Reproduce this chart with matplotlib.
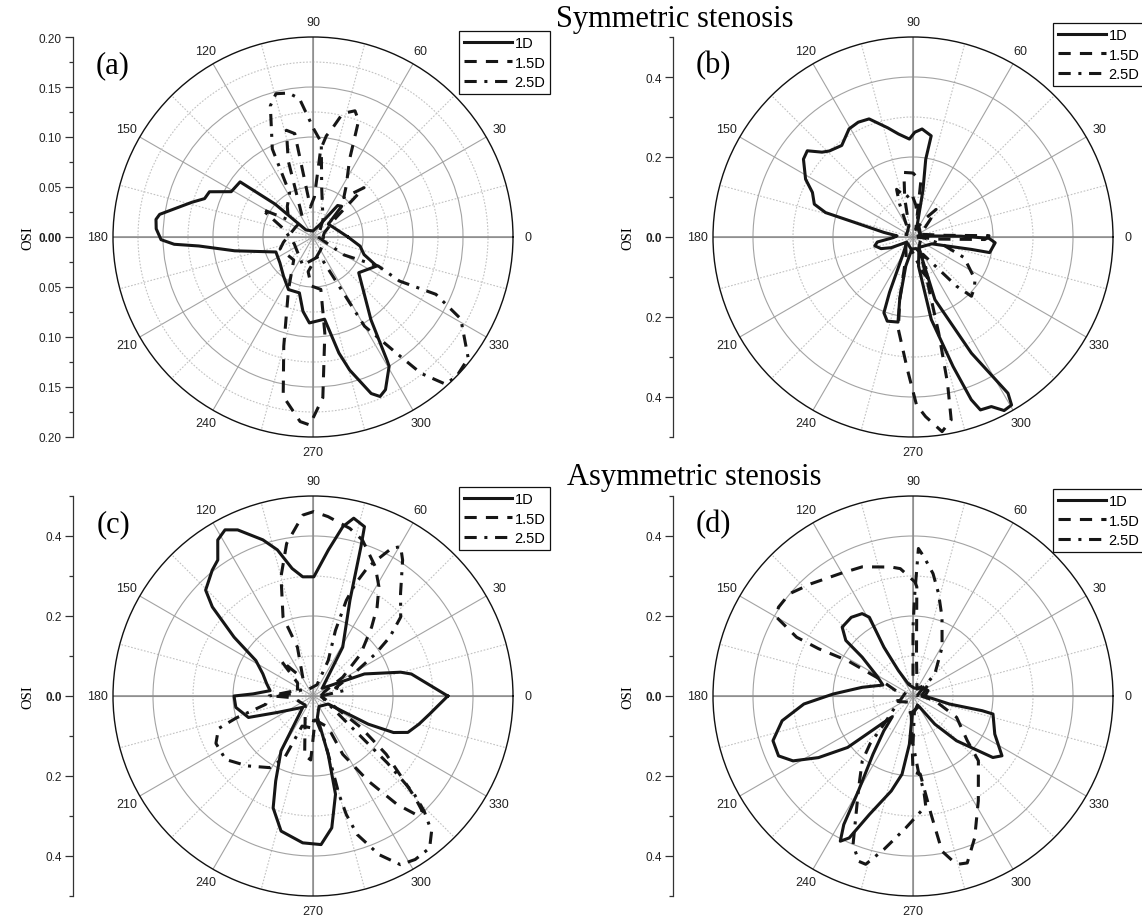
import numpy as np
import matplotlib.pyplot as plt
from matplotlib.lines import Line2D

W, H = 1142, 920
SANS = ['Liberation Sans', 'DejaVu Sans']
SERIF = ['Liberation Serif', 'DejaVu Serif']

labels = ['1D', '1.5D', '2.5D']
angle_ticks = list(range(0, 360, 30))

# (angle in degrees, OSI), in drawing order
# --- (a) symmetric stenosis, 1D / 1.5D / 2.5D
a_1d = [(360, 0.035), (349, 0.048), (341, 0.054), (335.5, 0.070), (322, 0.058), (305, 0.101),
        (301, 0.1435), (300.5, 0.150), (295.4, 0.169), (292.8, 0.173), (290.4, 0.167),
        (285.4, 0.138), (282.6, 0.119), (278, 0.083), (267.6, 0.086), (262.3, 0.075),
        (256.3, 0.0575), (245, 0.058), (233, 0.049), (218, 0.042), (202, 0.040), (190, 0.0795),
        (184.5, 0.1145), (183, 0.139), (181, 0.152), (177, 0.157), (173.6, 0.158), (171.6, 0.155),
        (164, 0.126), (160.5, 0.115), (156.4, 0.113), (151, 0.0935), (142.9, 0.0914),
        (139, 0.05), (135, 0.01), (90, 0.006), (60, 0.015), (52, 0.04), (47, 0.042),
        (40, 0.02), (20, 0.024), (0, 0.035)]
a_15d = [(0, 0.01), (20, 0.012), (40, 0.03), (44, 0.071), (52, 0.05), (57, 0.061), (64.8, 0.086),
         (68.6, 0.125), (71.6, 0.133), (76.5, 0.127), (80, 0.11), (82.5, 0.102), (85, 0.088),
         (88, 0.04), (95, 0.03), (100, 0.105), (104, 0.11), (108, 0.08), (120, 0.02), (150, 0.02),
         (190, 0.03), (200, 0.035), (230, 0.03), (245, 0.058), (255, 0.113), (259.4, 0.162),
         (266, 0.185), (269, 0.188), (273.5, 0.161), (277, 0.097), (278.5, 0.053), (268, 0.049),
         (262, 0.035), (300, 0.015), (340, 0.012), (360, 0.01)]
a_25d = [(360, 0.005), (330, 0.036), (336, 0.0715), (333, 0.097), (335, 0.1356), (331, 0.169),
         (322, 0.197), (316, 0.20), (312, 0.198), (308.4, 0.174), (305.7, 0.143), (300, 0.103),
         (298, 0.056), (290, 0.02), (250, 0.03), (200, 0.02), (165, 0.03), (151.5, 0.058),
         (145, 0.03), (130, 0.04), (118, 0.05), (114.8, 0.097), (108, 0.138), (104.5, 0.148),
         (99.6, 0.146), (95.6, 0.139), (89.6, 0.108), (85, 0.095), (80, 0.05), (60, 0.02),
         (0, 0.005)]

# --- (b) symmetric stenosis
b_1d = [(5, 0.02), (40, 0.02), (70, 0.03), (78, 0.12), (80.7, 0.197), (79.8, 0.257), (85.2, 0.271),
        (89, 0.262), (92.1, 0.245), (98, 0.26), (103, 0.28), (110.4, 0.315), (115.5, 0.318),
        (120.6, 0.314), (127.9, 0.29), (134.2, 0.30), (137, 0.311), (140.8, 0.341), (144.6, 0.336),
        (151.7, 0.305), (156.1, 0.275), (161.6, 0.26), (164.4, 0.227), (166, 0.15), (171, 0.074),
        (176, 0.04), (182, 0.05), (188, 0.09), (193, 0.098), (200, 0.085), (206, 0.061),
        (220, 0.02), (240, 0.05), (247, 0.15), (249, 0.203), (253, 0.22), (260, 0.216),
        (258, 0.16), (256, 0.075), (265, 0.03), (285, 0.03), (295, 0.043), (289.3, 0.166),
        (296.7, 0.325), (301.3, 0.457), (300.4, 0.487), (297.7, 0.49), (294.8, 0.467),
        (291.3, 0.464), (289.7, 0.432), (287.2, 0.339), (282.5, 0.2115), (280.7, 0.074),
        (300, 0.03), (340, 0.05), (348, 0.149), (348.5, 0.1955), (356, 0.206), (359, 0.19),
        (361, 0.12), (363, 0.05), (365, 0.02)]
b_15d = [(0, 0.01), (355, 0.06), (358, 0.18), (361, 0.19), (363, 0.08), (380, 0.02), (405, 0.06),
         (410, 0.09), (415, 0.06), (430, 0.02), (442, 0.14), (450, 0.16), (458, 0.163),
         (462, 0.10), (470, 0.03), (560, 0.02), (610, 0.05), (618, 0.16), (621, 0.234),
         (627.6, 0.332), (631.2, 0.42), (634, 0.45), (638.5, 0.492), (641.8, 0.467),
         (643.3, 0.375), (645, 0.248), (647.7, 0.12), (660, 0.03), (700, 0.02), (720, 0.01)]
b_25d = [(0, 0.01), (20, 0.02), (60, 0.03), (85, 0.08), (92, 0.11), (100, 0.10), (109, 0.126),
         (112, 0.09), (120, 0.03), (200, 0.02), (260, 0.03), (285, 0.09), (290, 0.11), (300, 0.05),
         (311.5, 0.164), (314.6, 0.208), (320, 0.20), (325.6, 0.188), (338, 0.138), (345, 0.08),
         (355, 0.03), (360, 0.01)]

# --- (c) asymmetric stenosis
c_1d = [(0, 0.337), (12.6, 0.252), (15.2, 0.227), (23.2, 0.14), (40, 0.03), (55, 0.08),
        (58.7, 0.143), (68.9, 0.2565), (72.2, 0.392), (73.1, 0.4425), (77.1, 0.456), (80, 0.43),
        (84, 0.367), (89.6, 0.298), (94.9, 0.299), (99.3, 0.323), (103.7, 0.376), (107.8, 0.41),
        (114.4, 0.456), (117.9, 0.47), (121.4, 0.457), (125, 0.415), (128.7, 0.403),
        (135.4, 0.377), (138.5, 0.336), (143.3, 0.246), (148.2, 0.168), (156.2, 0.137),
        (165, 0.12), (172.9, 0.108), (178, 0.15), (180, 0.1975), (188.4, 0.195), (198.4, 0.17),
        (204.8, 0.098), (228, 0.038), (239.8, 0.159), (246.3, 0.232), (250.4, 0.297),
        (256.7, 0.347), (266, 0.368), (273.1, 0.372), (278.1, 0.333), (282.9, 0.252),
        (284.6, 0.15), (281.5, 0.055), (300, 0.03), (332.2, 0.043), (333, 0.155),
        (335.6, 0.221), (339, 0.254), (345.1, 0.274), (351.2, 0.295), (360, 0.337)]
c_15d = [(0, 0.02), (20, 0.03), (32.3, 0.088), (41.4, 0.159), (49.6, 0.226), (54.2, 0.274),
         (58.9, 0.319), (64.3, 0.359), (72.4, 0.409), (77.6, 0.429), (85.2, 0.45), (89.8, 0.461),
         (93.2, 0.453), (99.8, 0.387), (105, 0.309), (110.8, 0.211), (107.7, 0.128), (120, 0.05),
         (132, 0.119), (140, 0.05), (170, 0.04), (180, 0.10), (185, 0.05), (230, 0.03),
         (262, 0.15), (268, 0.16), (275, 0.06), (295.8, 0.087), (297, 0.1635), (303, 0.253),
         (307.8, 0.343), (311.4, 0.40), (313.5, 0.397), (315.1, 0.3605), (317, 0.312),
         (321.5, 0.2338), (326.7, 0.143), (340, 0.04), (360, 0.02)]
c_25d = [(0, 0.02), (10, 0.08), (20, 0.06), (28.6, 0.1155), (34, 0.188), (37.5, 0.242), (42, 0.295),
         (49.5, 0.337), (56.6, 0.407), (59.6, 0.433), (62, 0.418), (66.9, 0.351), (69.3, 0.30),
         (70.8, 0.253), (71.1, 0.173), (66.8, 0.097), (70, 0.03), (120, 0.02), (170, 0.06),
         (180, 0.11), (190, 0.12), (196, 0.20), (199, 0.25), (206, 0.27), (216, 0.27),
         (226.7, 0.24), (239, 0.209), (245.3, 0.169), (250, 0.08), (268, 0.08), (275, 0.05),
         (284.5, 0.1157), (284.8, 0.2025), (284.8, 0.2545), (285.7, 0.3077), (287.7, 0.3636),
         (292.6, 0.4296), (297.4, 0.475), (302, 0.482), (307.5, 0.479), (311.2, 0.45),
         (314, 0.40), (316, 0.35), (318, 0.25), (320, 0.15), (330, 0.05), (360, 0.02)]

# --- (d) asymmetric stenosis
d_1d = [(0, 0.03), (20, 0.04), (40, 0.03), (80, 0.02), (110, 0.03), (119.8, 0.073), (120.8, 0.142),
        (119, 0.225), (121.7, 0.242), (128.1, 0.25), (135.8, 0.247), (140.4, 0.218), (142.6, 0.16),
        (150.7, 0.104), (160, 0.08), (170.3, 0.129), (178.6, 0.2), (184.2, 0.2735), (190.7, 0.333),
        (197.7, 0.3675), (204, 0.368), (208.4, 0.341), (213.1, 0.282), (218.2, 0.208), (222, 0.1),
        (225, 0.073), (230, 0.1134), (235.5, 0.1765), (240.1, 0.274), (241.7, 0.365),
        (243.4, 0.406), (245.8, 0.389), (249.8, 0.3155), (257.1, 0.2436), (262, 0.1975),
        (265.7, 0.121), (268, 0.04), (300, 0.03), (307.8, 0.089), (314.2, 0.156), (320, 0.213),
        (322.4, 0.252), (326.1, 0.268), (335, 0.2256), (347.3, 0.205), (348, 0.177),
        (347.6, 0.093), (355, 0.04), (360, 0.03)]
d_15d = [(0, 0.02), (20, 0.03), (40, 0.05), (60, 0.02), (85, 0.10), (88, 0.273), (89, 0.285),
         (95.7, 0.32), (99.6, 0.327), (111.5, 0.347), (120.7, 0.356), (132.2, 0.379),
         (140.4, 0.401), (146.6, 0.403), (150, 0.394), (153.2, 0.326), (153.4, 0.264),
         (151.6, 0.186), (152.8, 0.102), (165, 0.04), (200, 0.04), (230, 0.02), (265, 0.05),
         (270, 0.19), (275.3, 0.196), (278.7, 0.2995), (280.6, 0.3947), (284.5, 0.435),
         (288, 0.4388), (293.5, 0.3867), (301.9, 0.309), (315.3, 0.23), (320.5, 0.176),
         (333.9, 0.1215), (348, 0.056), (360, 0.02)]
d_25d = [(0, 0.01), (30, 0.02), (45.3, 0.0776), (59.2, 0.142), (69.8, 0.21), (76, 0.264),
         (80.7, 0.31), (85.5, 0.349), (87.9, 0.369), (89, 0.256), (90, 0.172), (90, 0.05),
         (150, 0.02), (215, 0.06), (224, 0.10), (228, 0.16), (232, 0.206), (239.3, 0.266),
         (248, 0.40), (251.8, 0.435), (254.3, 0.437), (259.3, 0.39), (266.9, 0.33), (276.6, 0.277),
         (276.5, 0.239), (274, 0.188), (270, 0.12), (275, 0.04), (320, 0.02), (360, 0.01)]

panels = [
    # label, centre (px), rmax, major r step, minor r step, series, legend top-left (px)
    ('(a)', (313, 238), 0.2, 0.05, 0.025, [a_1d, a_15d, a_25d], (459, 32)),
    ('(b)', (913, 238), 0.5, 0.2, 0.1, [b_1d, b_15d, b_25d], (1053, 24)),
    ('(c)', (313, 697), 0.5, 0.2, 0.1, [c_1d, c_15d, c_25d], (459, 488)),
    ('(d)', (913, 697), 0.5, 0.2, 0.1, [d_1d, d_15d, d_25d], (1053, 490)),
]
styles = ['-', (0, (4, 3)), (0, (4, 2.5, 1, 2.5))]
ink = '#161616'
R = 200  # polar radius in pixels

fig = plt.figure(figsize=(W / 100, H / 100), dpi=100)

for name, (cx, cy), rmax, step, mstep, series, (lx, ly) in panels:
    rect = [(cx - R) / W, 1 - (cy + R) / H, 2 * R / W, 2 * R / H]
    ax = fig.add_axes(rect, projection='polar')
    ax.set_ylim(0, rmax)
    major = np.arange(step, rmax - 1e-9, step)
    minor = np.arange(mstep, rmax - 1e-9, step)
    ax.set_yticks(major)
    ax.set_yticks(minor, minor=True)
    ax.set_yticklabels([])
    ax.set_xticks(np.deg2rad(angle_ticks))
    ax.set_xticklabels([str(a) for a in angle_ticks], fontfamily=SANS, fontsize=9, color='#222222')
    ax.set_xticks(np.deg2rad(np.arange(15, 360, 30)), minor=True)
    ax.set_axisbelow(True)
    ax.grid(True, which='major', color='#a3a3a3', lw=0.8, ls='-')
    ax.grid(True, which='minor', color='#c2c2c2', lw=0.8, ls=(0, (1.5, 1.5)))
    ax.tick_params(axis='y', which='both', length=0)
    ax.tick_params(axis='x', which='major', pad=4, length=4, direction='in', width=1)
    ax.tick_params(axis='x', which='minor', length=0)
    for a in (0, 90, 180, 270):
        ax.axvline(np.deg2rad(a), color='#8a8a8a', lw=1.1, zorder=1.2)
    ax.spines['polar'].set_linewidth(1.0)
    ax.spines['polar'].set_color('#111111')

    for pts, ls in zip(series, styles):
        th = np.deg2rad([p[0] for p in pts])
        rr = [p[1] for p in pts]
        ax.plot(th, rr, color=ink, lw=2.2, ls=ls, solid_joinstyle='round',
                dash_joinstyle='round', zorder=3)

    # left radial scale, mirrored about the centre
    ax_x = cx - 240
    lax = fig.add_axes([ax_x / W, rect[1], 0.0005, rect[3]])
    lax.set_ylim(-rmax, rmax)
    lax.patch.set_visible(False)
    for s in ('right', 'top', 'bottom'):
        lax.spines[s].set_visible(False)
    lax.spines['left'].set_color('#333333')
    lax.spines['left'].set_linewidth(0.9)
    lax.set_xticks([])
    n = int(np.floor(rmax / step + 1e-6))
    vals = np.round(np.arange(-n, n + 1) * step, 3)
    fmt = '%.2f' if step < 0.1 else '%.1f'
    lax.set_yticks(vals)
    texts = lax.set_yticklabels([fmt % abs(v) for v in vals], fontfamily=SANS, fontsize=8.5,
                                color='#222222')
    for v, t in zip(vals, texts):
        if abs(v) < 1e-9:
            t.set_fontweight('bold')
    m = int(np.floor(rmax / mstep + 1e-6))
    lax.set_yticks(np.round(np.arange(-m, m + 1) * mstep, 3), minor=True)
    lax.tick_params(axis='y', which='major', length=6, width=0.9, direction='out', pad=2,
                    color='#333333')
    lax.tick_params(axis='y', which='minor', length=3, width=0.9, direction='out',
                    color='#333333')
    fig.text((ax_x - 45) / W, 1 - cy / H, 'OSI', rotation=90, ha='center', va='center',
             family=SERIF, fontsize=10.5)

    fig.text((cx - 200) / W, 1 - (cy - 172) / H, name, ha='center', va='center',
             family=SERIF, fontsize=22)

    handles = [Line2D([], [], color=ink, lw=2.2, ls=ls) for ls in styles]
    leg = ax.legend(handles, labels, loc='upper left', bbox_to_anchor=(lx / W, 1 - ly / H),
                    bbox_transform=fig.transFigure, fancybox=False, framealpha=1,
                    edgecolor='#111111', handlelength=3.3, handletextpad=0.15,
                    borderpad=0.35, labelspacing=0.37, borderaxespad=0,
                    prop={'family': SANS, 'size': 10.5})
    leg.get_frame().set_linewidth(0.9)

fig.text(675 / W, 1 - 19 / H, 'Symmetric stenosis', ha='center', va='center',
         family=SERIF, fontsize=22)
fig.text(694 / W, 1 - 478 / H, 'Asymmetric stenosis', ha='center', va='center',
         family=SERIF, fontsize=22)

fig.savefig('out.png', dpi=100)
